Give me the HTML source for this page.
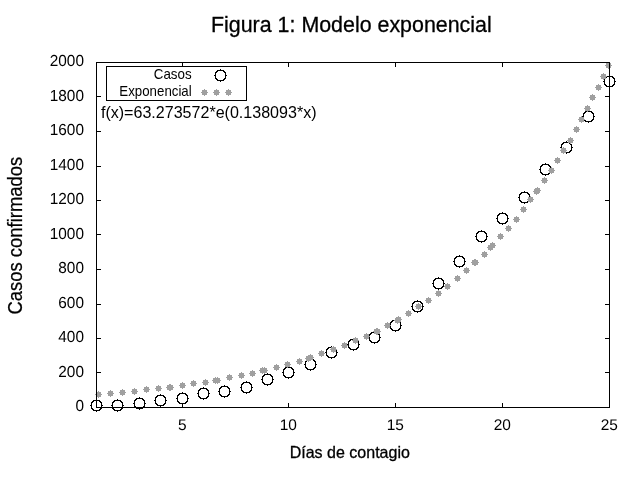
<!DOCTYPE html>
<html><head><meta charset="utf-8"><style>
html,body{margin:0;padding:0;background:#fff;width:640px;height:480px;overflow:hidden}
svg{display:block;will-change:transform}
text{font-family:"Liberation Sans",sans-serif;fill:#000}
text.g{text-rendering:geometricPrecision}
path,use{shape-rendering:crispEdges}
</style></head><body>
<svg width="640" height="480" viewBox="0 0 640 480">
<defs><path id="c" d="M0 -6h1v1h-1zM-3 -5h7v1h-7zM-4 -4h2v1h-2zM3 -4h2v1h-2zM-5 -3h2v1h-2zM4 -3h2v1h-2zM-5 -2h1v1h-1zM5 -2h1v1h-1zM-5 -1h1v1h-1zM5 -1h1v1h-1zM-6 0h2v1h-2zM5 0h2v1h-2zM-5 1h1v1h-1zM5 1h1v1h-1zM-5 2h1v1h-1zM5 2h1v1h-1zM-5 3h2v1h-2zM4 3h2v1h-2zM-4 4h2v1h-2zM3 4h2v1h-2zM-3 5h7v1h-7zM0 6h1v1h-1z"/><path id="s" d="M0 -3h1v1h-1zM-2 -2h5v1h-5zM-2 -1h5v1h-5zM-3 0h7v1h-7zM-2 1h5v1h-5zM-2 2h5v1h-5zM0 3h1v1h-1z"/></defs>
<g fill="#000"><use href="#c" x="96" y="405"/><use href="#c" x="117" y="405"/><use href="#c" x="139" y="403"/><use href="#c" x="160" y="400"/><use href="#c" x="182" y="398"/><use href="#c" x="203" y="393"/><use href="#c" x="224" y="391"/><use href="#c" x="246" y="387"/><use href="#c" x="267" y="379"/><use href="#c" x="288" y="372"/><use href="#c" x="310" y="364"/><use href="#c" x="331" y="352"/><use href="#c" x="353" y="344"/><use href="#c" x="374" y="337"/><use href="#c" x="395" y="325"/><use href="#c" x="417" y="306"/><use href="#c" x="438" y="283"/><use href="#c" x="459" y="261"/><use href="#c" x="481" y="236"/><use href="#c" x="502" y="218"/><use href="#c" x="524" y="197"/><use href="#c" x="545" y="169"/><use href="#c" x="566" y="147"/><use href="#c" x="588" y="116"/><use href="#c" x="609" y="81"/></g>
<g fill="#a0a0a0"><use href="#s" x="98" y="394"/><use href="#s" x="110" y="393"/><use href="#s" x="122" y="392"/><use href="#s" x="134" y="391"/><use href="#s" x="146" y="389"/><use href="#s" x="158" y="388"/><use href="#s" x="170" y="387"/><use href="#s" x="182" y="385"/><use href="#s" x="193" y="383"/><use href="#s" x="205" y="382"/><use href="#s" x="217" y="380"/><use href="#s" x="229" y="377"/><use href="#s" x="241" y="375"/><use href="#s" x="252" y="373"/><use href="#s" x="264" y="370"/><use href="#s" x="276" y="367"/><use href="#s" x="287" y="364"/><use href="#s" x="299" y="361"/><use href="#s" x="310" y="357"/><use href="#s" x="321" y="353"/><use href="#s" x="333" y="349"/><use href="#s" x="344" y="345"/><use href="#s" x="355" y="340"/><use href="#s" x="366" y="336"/><use href="#s" x="377" y="331"/><use href="#s" x="387" y="325"/><use href="#s" x="398" y="319"/><use href="#s" x="408" y="313"/><use href="#s" x="418" y="306"/><use href="#s" x="428" y="300"/><use href="#s" x="438" y="293"/><use href="#s" x="447" y="286"/><use href="#s" x="457" y="278"/><use href="#s" x="466" y="270"/><use href="#s" x="475" y="262"/><use href="#s" x="484" y="254"/><use href="#s" x="492" y="245"/><use href="#s" x="500" y="236"/><use href="#s" x="508" y="228"/><use href="#s" x="516" y="219"/><use href="#s" x="523" y="209"/><use href="#s" x="530" y="199"/><use href="#s" x="537" y="190"/><use href="#s" x="544" y="180"/><use href="#s" x="551" y="170"/><use href="#s" x="557" y="160"/><use href="#s" x="563" y="150"/><use href="#s" x="570" y="140"/><use href="#s" x="576" y="129"/><use href="#s" x="581" y="119"/><use href="#s" x="587" y="108"/><use href="#s" x="592" y="97"/><use href="#s" x="598" y="87"/><use href="#s" x="603" y="76"/><use href="#s" x="608" y="65"/><use href="#s" x="169" y="387"/><use href="#s" x="215" y="380"/><use href="#s" x="262" y="370"/><use href="#s" x="308" y="358"/><use href="#s" x="376" y="331"/><use href="#s" x="397" y="320"/><use href="#s" x="474" y="262"/><use href="#s" x="490" y="247"/><use href="#s" x="536" y="191"/></g>
<path fill="#000" d="M96 62h514v1h-514zM96 407h514v1h-514zM96 62h1v346h-1zM609 62h1v346h-1zM97 407h4v1h-4zM605 407h4v1h-4zM97 372h4v1h-4zM605 372h4v1h-4zM97 338h4v1h-4zM605 338h4v1h-4zM97 304h4v1h-4zM605 304h4v1h-4zM97 269h4v1h-4zM605 269h4v1h-4zM97 234h4v1h-4zM605 234h4v1h-4zM97 200h4v1h-4zM605 200h4v1h-4zM97 166h4v1h-4zM605 166h4v1h-4zM97 131h4v1h-4zM605 131h4v1h-4zM97 96h4v1h-4zM605 96h4v1h-4zM97 62h4v1h-4zM605 62h4v1h-4zM182 403h1v4h-1zM182 63h1v4h-1zM288 403h1v4h-1zM288 63h1v4h-1zM395 403h1v4h-1zM395 63h1v4h-1zM502 403h1v4h-1zM502 63h1v4h-1zM609 403h1v4h-1zM609 63h1v4h-1zM106 66h141v1h-141zM106 100h141v1h-141zM106 66h1v35h-1zM246 66h1v35h-1z"/>
<use href="#c" x="220" y="75" fill="#000"/>
<g fill="#a0a0a0"><use href="#s" x="204" y="92"/><use href="#s" x="216" y="92"/><use href="#s" x="228" y="92"/></g>
<g><text class="g" x="75.417" y="410.57" font-size="15.979" textLength="8.550" lengthAdjust="spacingAndGlyphs">0</text>
<text class="g" x="58.316" y="376.57" font-size="15.979" textLength="25.651" lengthAdjust="spacingAndGlyphs">200</text>
<text class="g" x="58.316" y="341.57" font-size="15.979" textLength="25.651" lengthAdjust="spacingAndGlyphs">400</text>
<text class="g" x="58.316" y="307.57" font-size="15.979" textLength="25.651" lengthAdjust="spacingAndGlyphs">600</text>
<text class="g" x="58.316" y="272.57" font-size="15.979" textLength="25.651" lengthAdjust="spacingAndGlyphs">800</text>
<text class="g" x="49.766" y="238.57" font-size="15.979" textLength="34.201" lengthAdjust="spacingAndGlyphs">1000</text>
<text class="g" x="49.766" y="203.57" font-size="15.979" textLength="34.201" lengthAdjust="spacingAndGlyphs">1200</text>
<text class="g" x="49.766" y="169.57" font-size="15.979" textLength="34.201" lengthAdjust="spacingAndGlyphs">1400</text>
<text class="g" x="49.766" y="134.57" font-size="15.979" textLength="34.201" lengthAdjust="spacingAndGlyphs">1600</text>
<text class="g" x="49.766" y="100.57" font-size="15.979" textLength="34.201" lengthAdjust="spacingAndGlyphs">1800</text>
<text class="g" x="49.766" y="65.57" font-size="15.979" textLength="34.201" lengthAdjust="spacingAndGlyphs">2000</text>
<text class="g" x="177.965" y="429.9" font-size="15.436" textLength="8.607" lengthAdjust="spacingAndGlyphs">5</text>
<text class="g" x="279.662" y="429.9" font-size="15.436" textLength="17.213" lengthAdjust="spacingAndGlyphs">10</text>
<text class="g" x="386.662" y="429.9" font-size="15.436" textLength="17.213" lengthAdjust="spacingAndGlyphs">15</text>
<text class="g" x="493.662" y="429.9" font-size="15.436" textLength="17.213" lengthAdjust="spacingAndGlyphs">20</text>
<text class="g" x="600.662" y="429.9" font-size="15.436" textLength="17.213" lengthAdjust="spacingAndGlyphs">25</text>
<text x="211.01" y="32.0" stroke="#000" stroke-width="0.3" font-size="21.575" textLength="280.726" lengthAdjust="spacingAndGlyphs">Figura 1: Modelo exponencial</text>
<text x="289.693" y="457.8" stroke="#000" stroke-width="0.3" font-size="16.5" textLength="120.19" lengthAdjust="spacingAndGlyphs">Días de contagio</text>
<text x="100.938" y="118.367" font-size="16" textLength="215.575" lengthAdjust="spacingAndGlyphs">f(x)=63.273572*e(0.138093*x)</text>
<text x="153.774" y="78.563" font-size="14.2" textLength="37.863" lengthAdjust="spacingAndGlyphs">Casos</text>
<text x="119.371" y="95.6" font-size="14.3" textLength="72.342" lengthAdjust="spacingAndGlyphs">Exponencial</text>
<text transform="translate(22.373,314.447) rotate(-90)" stroke="#000" stroke-width="0.25" font-size="19.338" textLength="157.621" lengthAdjust="spacingAndGlyphs">Casos confirmados</text></g>
</svg></body></html>
